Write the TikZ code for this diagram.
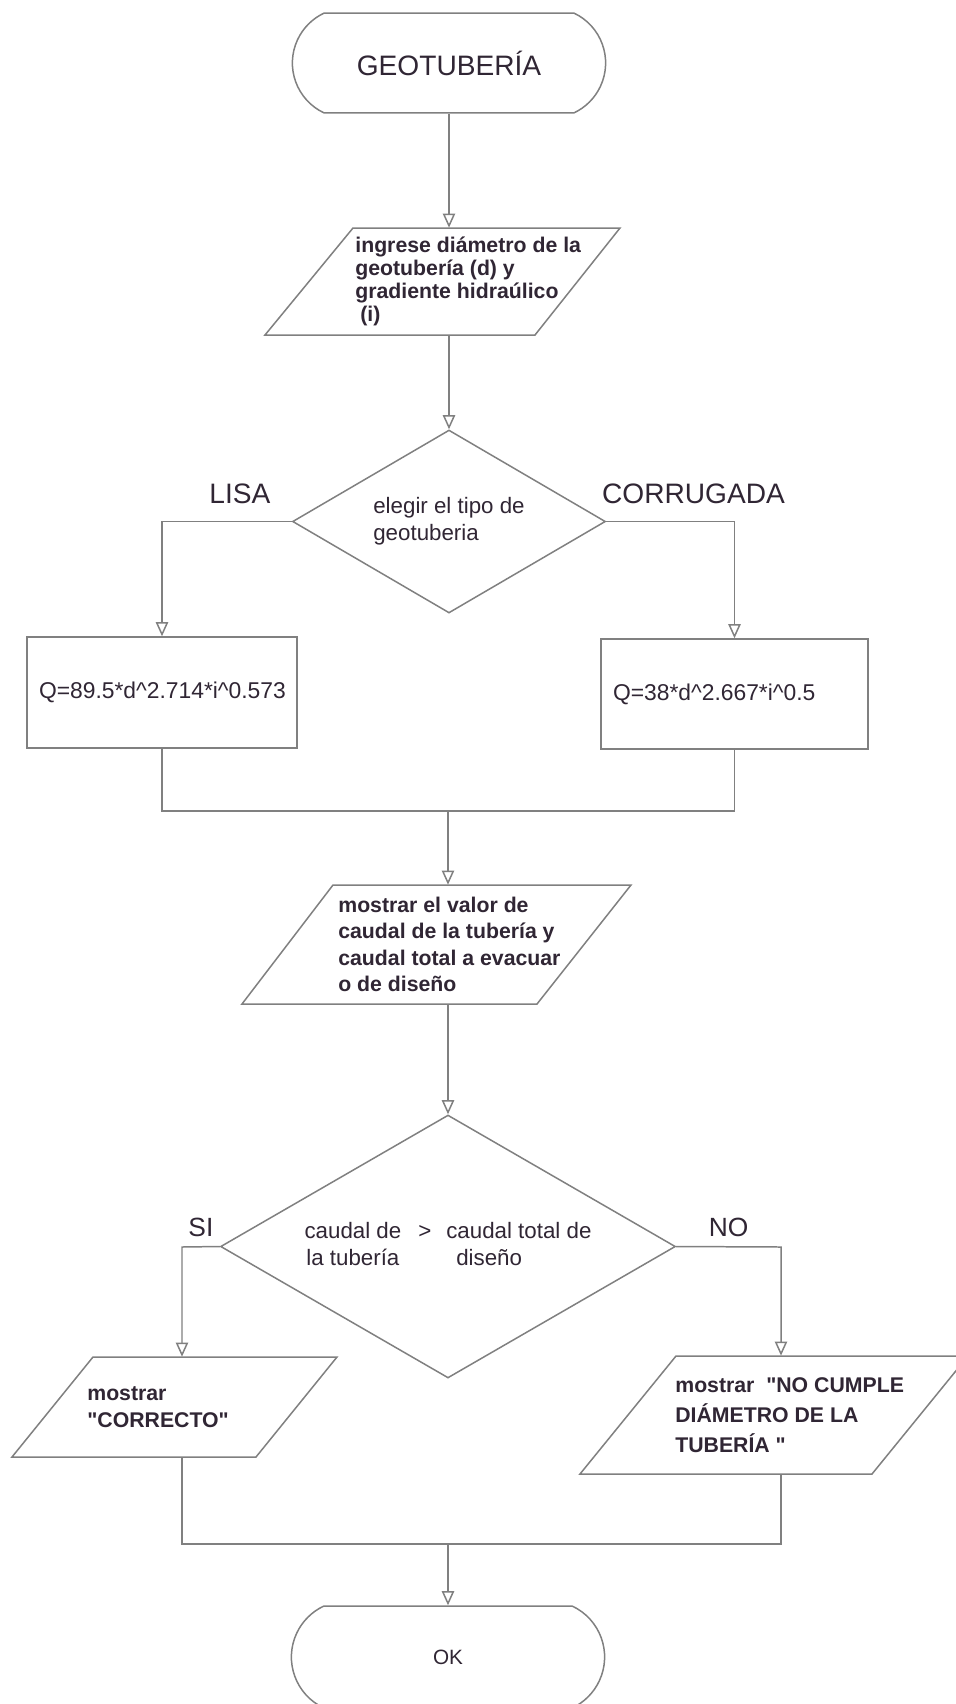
\documentclass[tikz,border=0pt]{standalone}
\usepackage{fontspec}
\setmainfont{Liberation Sans}
\usetikzlibrary{shapes.geometric,shapes.misc,arrows.meta}

\definecolor{linegray}{RGB}{128,128,128}
\definecolor{inkdark}{RGB}{48,38,52}

\tikzset{
  flow/.style={draw=linegray,line width=0.85pt,text=inkdark},
  terminal/.style={flow,rounded rectangle,rounded rectangle arc length=130,font=\fontsize{16}{19}\selectfont},
  io/.style={rectangle,anchor=west,inner sep=0pt,align=left,text=inkdark},
  decision/.style={flow,diamond,inner sep=0pt,font=\fontsize{12.7}{15.4}\selectfont},
  process/.style={flow,rectangle,inner xsep=0.24cm,align=left,font=\fontsize{13}{15.6}\selectfont},
  branch/.style={text=inkdark,inner sep=0pt},
  link/.style={draw=linegray,line width=0.85pt},
  arrow/.style={link,-{Triangle[open,length=8pt,width=7pt]}}
}

\begin{document}
\begin{tikzpicture}[x=0.02cm,y=-0.02cm]
\path[fill=white,use as bounding box] (0,0) rectangle (956,1704);

% slanted input/output boxes
\draw[link] (353,228) -- (620,228) -- (535,335) -- (265,335) -- cycle;
\draw[link] (333,885) -- (631,885) -- (537,1004) -- (242,1004) -- cycle;
\draw[link] (93,1357) -- (337,1357) -- (256,1457) -- (12,1457) -- cycle;
\draw[link] (676,1356) -- (968,1356) -- (872,1474) -- (580,1474) -- cycle;

\path
(449,63) node[terminal,minimum width=6.5cm,minimum height=2cm] (start) {GEOTUBERÍA}
(355,281.5) node[io,minimum height=2.14cm,
    font=\bfseries\fontsize{12.1}{13}\selectfont] (in1)
    {ingrese diámetro de la\\geotubería (d) y\\gradiente hidraúlico\\\hspace*{0.1cm}(i)}
(449,521.5) node[decision,minimum width=6.26cm,minimum height=3.66cm,aspect=1.71,align=left] (dec1)
    {elegir el tipo de\\geotuberia}
(162,692.5) node[process,text width=4.92cm,minimum height=2.22cm] (box1)
    {Q=89.5*d\textasciicircum2.714*i\textasciicircum0.573}
(734.5,694) node[process,text width=4.86cm,minimum height=2.2cm] (box2)
    {Q=38*d\textasciicircum2.667*i\textasciicircum0.5}
(338,944.5) node[io,minimum height=2.38cm,
    font=\bfseries\fontsize{12.1}{15}\selectfont] (in2)
    {mostrar el valor de\\caudal de la tubería y\\caudal total a evacuar\\o de diseño}
(448,1246.5) node[decision,minimum width=9.1cm,minimum height=5.26cm,aspect=1.73] (dec2)
    {\begin{tabular}{@{}c@{\hspace{0.34cm}}c@{\hspace{0.3cm}}l@{}}
      caudal de & > & caudal total de\\
      la tubería & & \hspace{0.2cm}diseño
    \end{tabular}}
(87,1407) node[io,minimum height=2cm,
    font=\bfseries\fontsize{12.1}{15.4}\selectfont] (in3)
    {mostrar\\\textquotedbl CORRECTO\textquotedbl}
(675,1415) node[io,minimum height=2.36cm,
    font=\bfseries\fontsize{12.1}{17}\selectfont] (in4)
    {mostrar\ \ \textquotedbl NO CUMPLE\\DIÁMETRO DE LA\\TUBERÍA \textquotedbl}
(448,1657) node[terminal,minimum width=6.5cm,minimum height=2.04cm,
    font=\fontsize{11.8}{14}\selectfont] (end) {OK};

% main line down to the first choice
\draw[arrow] (start.south) -- (start.south |- in1.north);
\draw[arrow] (start.south |- in1.south) -- (dec1.north);

% pipe type
\draw[arrow] (dec1.west) -| node[branch,pos=0.2,above=0.34cm,font=\fontsize{16}{19}\selectfont] {LISA} (box1.north);
\draw[arrow] (dec1.east) -| node[branch,pos=0.34,above=0.34cm,font=\fontsize{16}{19}\selectfont] {CORRUGADA} (box2.north);

\coordinate (m1) at (448,811);
\draw[link] (box1.south) |- (m1) -| (box2.south);
\draw[arrow] (m1) -- (m1 |- in2.north);
\draw[arrow] (m1 |- in2.south) -- (dec2.north);

% check of the flow
\coordinate (si) at (182,1247);
\coordinate (no) at (781,1247);
\draw[arrow] (dec2.west) -- node[branch,above=0.18cm,font=\fontsize{15}{18}\selectfont] {SI} (si) -- (si |- in3.north);
\draw[arrow] (dec2.east) -- node[branch,above=0.18cm,font=\fontsize{15}{18}\selectfont] {NO} (no) -- (no |- in4.north);

\coordinate (m2) at (448,1544);
\draw[link] (si |- in3.south) |- (m2) -| (no |- in4.south);
\draw[arrow] (m2) -- (end.north);
\end{tikzpicture}
\end{document}
